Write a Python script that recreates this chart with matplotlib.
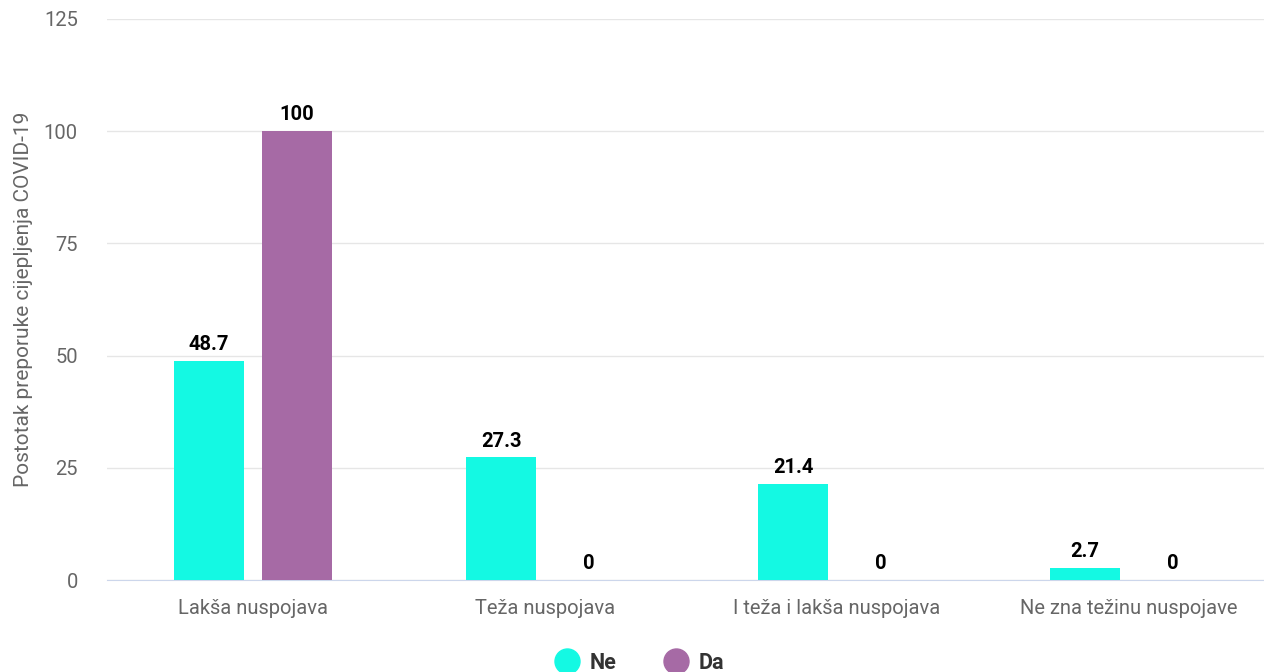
import matplotlib
matplotlib.use("Agg")
import matplotlib.pyplot as plt
from matplotlib.lines import Line2D
import numpy as np

plt.rcParams['font.family'] = ['Roboto', 'DejaVu Sans']

categories = ["Lakša nuspojava", "Teža nuspojava", "I teža i lakša nuspojava", "Ne zna težinu nuspojave"]
series_names = ["Ne", "Da"]
ne_values = [48.7, 27.3, 21.4, 2.7]
da_values = [100, 0, 0, 0]
colors = ["#14F9E3", "#A66AA5"]
yticks = [0, 25, 50, 75, 100, 125]
ylabel = "Postotak preporuke cijepljenja COVID-19"

fig = plt.figure(figsize=(12.64, 6.72), dpi=100)
ax = fig.add_axes([107/1264, 1-580/672, (1264-107)/1264, 561/672])

x = np.arange(len(categories))
w = 0.24
off = 0.15
for vals, col, sgn in [(ne_values, colors[0], -1), (da_values, colors[1], 1)]:
    bars = ax.bar(x + sgn*off, vals, width=w, color=col, zorder=3)
    for b, v in zip(bars, vals):
        lab = f"{v:g}"
        ax.annotate(lab, (b.get_x()+b.get_width()/2, v), xytext=(0, 5), textcoords="offset points",
                    ha="center", va="bottom", fontsize=14.5, fontweight="bold", color="#000000", zorder=4)

ax.set_xlim(-0.5, (1264-253)/292)
ax.set_ylim(0, 125)
ax.set_yticks(yticks)
ax.set_xticks(x)
ax.set_xticklabels(categories)
ax.grid(axis="y", color="#e6e6e6", linewidth=1, zorder=0)
ax.set_axisbelow(True)
for s in ["top", "right", "left"]:
    ax.spines[s].set_visible(False)
ax.spines["bottom"].set_color("#ccd6eb")
ax.tick_params(axis="y", length=0, labelsize=14.5, labelcolor="#666666", pad=21)
ax.tick_params(axis="x", length=0, labelsize=14.5, labelcolor="#666666", pad=14)
ax.set_ylabel(ylabel, fontsize=15, color="#666666", labelpad=8)

handles = [Line2D([0], [0], marker="o", linestyle="", markersize=18, markerfacecolor=c, markeredgecolor=c)
           for c in colors]
leg = fig.legend(handles, series_names, loc="center", bbox_to_anchor=(635/1264, 1-663/672), ncol=2,
                 frameon=False, handletextpad=0.05, columnspacing=1.75, prop={"weight": "bold", "size": 15.5})
for t in leg.get_texts():
    t.set_color("#333333")

fig.savefig("out.png", dpi=100, facecolor="white")
